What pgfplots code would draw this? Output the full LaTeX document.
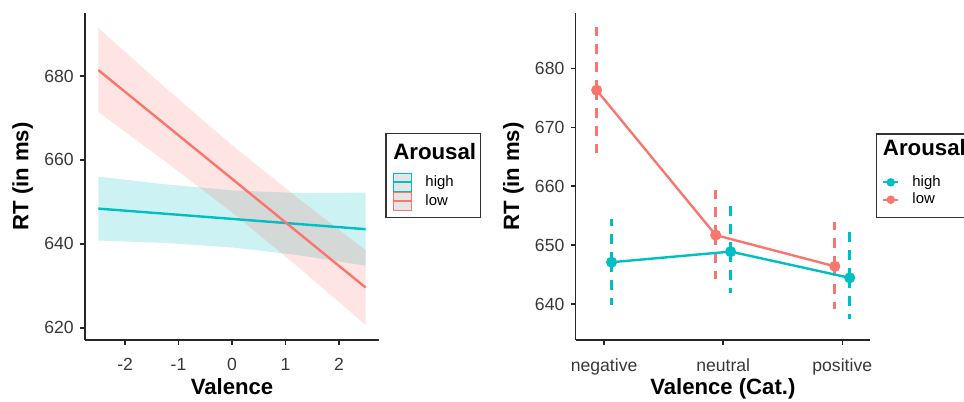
\documentclass[border=0pt]{standalone}
\usepackage{fontspec}
\setmainfont{Liberation Sans}
\usepackage{pgfplots}
\pgfplotsset{compat=1.18}
\definecolor{lowc}{HTML}{F8766D}
\definecolor{highc}{HTML}{00BFC4}

\pgfplotsset{
  gg/.style={
    scale only axis, anchor=south west,
    width=220.5pt, height=245.25pt,
    axis x line*=bottom, axis y line*=left,
    axis line style={line width=1.1pt, black!85},
    tick style={line width=1.1pt, black!85},
    tick align=outside, major tick length=3.5pt,
    tick label style={font=\fontsize{13.2}{15}\selectfont, text=black!78},
    xticklabel style={yshift=-7pt},
    yticklabel style={xshift=-1.5pt},
    label style={font=\fontsize{16.6}{18}\selectfont\bfseries},
    xlabel style={at={(axis description cs:0.5,-0.168)}, anchor=base},
    ylabel style={at={(axis description cs:-0.212,0.5)}, anchor=center},
    /pgf/number format/assume math mode=true,
    legend style={draw=none, fill=none, inner sep=0pt, outer sep=0pt,
      anchor=north west, row sep=0pt, column sep=9.5pt,
      nodes={inner sep=0pt, text depth=0.2em, font=\fontsize{11.2}{13}\selectfont}},
    legend cell align=left,
  },
  errdash/.style={line width=2pt, dash pattern=on 7.5pt off 6pt},
}

\begin{document}
\begin{tikzpicture}
\useasboundingbox (0,0) rectangle (723pt,301.5pt);

% left: continuous valence
\begin{axis}[gg, at={(63.75pt,46.5pt)},
  xmin=-2.75, xmax=2.75, ymin=617.1, ymax=695,
  xtick={-2,-1,0,1,2}, ytick={620,640,660,680},
  xlabel={Valence}, ylabel={RT (in ms)},
  legend style={at={(axis description cs:1.0465,0.5117)}},
]
% confidence bands
\addplot[forget plot, draw=none, fill=highc, fill opacity=0.2] coordinates {
  (-2.5,656.0) (-1.25,654.2) (0,652.75) (1.25,652.1) (2.5,652.2)
  (2.5,634.8) (1.25,637.3) (0,639.15) (-1.25,640.2) (-2.5,640.8)} -- cycle;
\addplot[forget plot, draw=none, fill=lowc, fill opacity=0.2] coordinates {
  (-2.5,691.4) (-1.25,677.25) (0,663.5) (1.25,650.75) (2.5,638.5)
  (2.5,620.7) (1.25,634.35) (0,647.5) (-1.25,659.65) (-2.5,671.4)} -- cycle;
% fitted lines
\addplot[forget plot, highc, line width=1.8pt] coordinates {(-2.5,648.4) (2.5,643.5)};
\addplot[forget plot, lowc, line width=1.8pt] coordinates {(-2.5,681.4) (2.5,629.6)};
\addlegendimage{draw=none, fill=none, legend image code/.code={
  \path[draw=highc, fill=black!10, line width=0.8pt] (0pt,-6.75pt) rectangle (13.5pt,6.75pt);
  \path[draw=highc, line width=1.6pt] (0pt,0pt) -- (13.5pt,0pt);}}
\addlegendentry{high}
\addlegendimage{draw=none, fill=none, legend image code/.code={
  \path[draw=lowc, fill=black!10, line width=0.8pt] (0pt,-6.75pt) rectangle (13.5pt,6.75pt);
  \path[draw=lowc, line width=1.6pt] (0pt,0pt) -- (13.5pt,0pt);}}
\addlegendentry{low}
\end{axis}

% right: categorical valence
\begin{axis}[gg, at={(431.8pt,46.5pt)}, width=220.7pt,
  xmin=0.762, xmax=3.233, ymin=633.9, ymax=689.4,
  xtick={1,2,3}, xticklabels={negative,neutral,positive},
  ytick={640,650,660,670,680},
  xlabel={Valence (Cat.)}, ylabel={RT (in ms)},
  legend style={at={(axis description cs:1.040,0.5085)}},
]
% error bars (dashed)
\addplot[forget plot, lowc, only marks, mark=none, error bars/.cd, y dir=both, y explicit,
  error mark=none, error bar style={errdash}]
  coordinates {(0.9375,676.3) += (0,10.7) -= (0,10.6)
               (1.9375,651.7) += (0,7.6) -= (0,7.4)
               (2.9375,646.4) += (0,7.6) -= (0,7.3)};
\addplot[forget plot, highc, only marks, mark=none, error bars/.cd, y dir=both, y explicit,
  error mark=none, error bar style={errdash}]
  coordinates {(1.0625,647.1) += (0,7.3) -= (0,7.3)
               (2.0625,648.9) += (0,8.0) -= (0,7.1)
               (3.0625,644.45) += (0,7.95) -= (0,7.05)};
% means
\addplot[forget plot, highc, line width=1.8pt, mark=*, mark size=3.2pt]
  coordinates {(1.0625,647.1) (2.0625,648.9) (3.0625,644.45)};
\addplot[forget plot, lowc, line width=1.8pt, mark=*, mark size=3.2pt]
  coordinates {(0.9375,676.3) (1.9375,651.7) (2.9375,646.4)};
\addlegendimage{draw=none, fill=none, legend image code/.code={
  \path[draw=highc, line width=1.6pt] (1pt,0pt) -- (12.5pt,0pt);
  \path[fill=highc] (6.75pt,0pt) circle (3.2pt);
  \path[draw=none, fill=none] (0pt,-6.5pt) rectangle (13.5pt,6.5pt);}}
\addlegendentry{high}
\addlegendimage{draw=none, fill=none, legend image code/.code={
  \path[draw=lowc, line width=1.6pt] (1pt,0pt) -- (12.5pt,0pt);
  \path[fill=lowc] (6.75pt,0pt) circle (3.2pt);
  \path[draw=none, fill=none] (0pt,-6.5pt) rectangle (13.5pt,6.5pt);}}
\addlegendentry{low}
\end{axis}

% legend frames and titles
\draw[line width=0.8pt, black!80] (289.5pt,138.5pt) rectangle (360.5pt,201.5pt);
\node[anchor=base west, inner sep=0pt, font=\fontsize{16.7}{18}\selectfont\bfseries]
  at (294.75pt,181.5pt) {Arousal};
\draw[line width=0.8pt, black!80] (657.5pt,138.2pt) rectangle (745pt,201pt);
\node[anchor=base west, inner sep=0pt, font=\fontsize{16.7}{18}\selectfont\bfseries]
  at (662pt,184.5pt) {Arousal};
\end{tikzpicture}
\end{document}
